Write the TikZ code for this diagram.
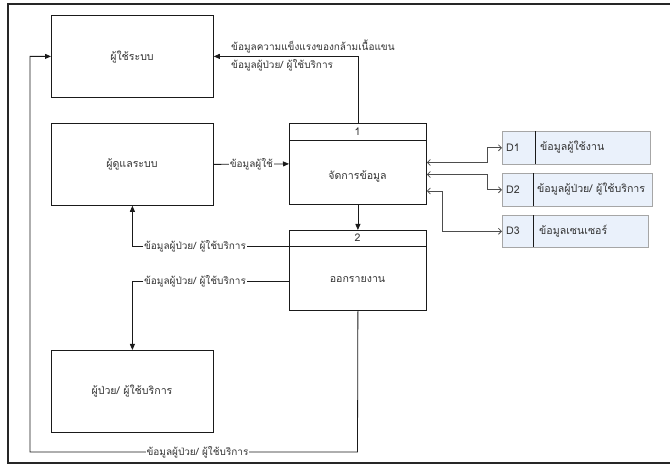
\documentclass[tikz,border=0pt]{standalone}
\usepackage{fontspec}
\setmainfont[Script=Thai]{Loma}
\usetikzlibrary{arrows.meta}
\definecolor{txt}{HTML}{333333}
\definecolor{ln}{HTML}{1A1A1A}
\definecolor{dsfill}{HTML}{EAF1FB}
\definecolor{dsdraw}{HTML}{A6A6A6}
\definecolor{dsline}{HTML}{4D4D4D}
\newcommand\thsz{\fontsize{10}{12}\selectfont}
\newcommand\thbig{\fontsize{10.6}{12}\selectfont}
\begin{document}
\begin{tikzpicture}[x=1pt,y=-1pt,
  font=\thsz, text=txt,
  ent/.style={draw=ln, line width=0.8pt, minimum width=162pt, minimum height=82pt, inner sep=0pt, anchor=north west},
  proc/.style={draw=ln, line width=0.8pt, minimum width=137pt, minimum height=81pt, inner sep=0pt, anchor=north west},
  store/.style={draw=dsdraw, fill=dsfill, line width=0.6pt, minimum height=33pt, inner sep=0pt, anchor=north west},
  flow/.style={draw=ln, line width=0.8pt, -{Triangle[length=6pt,width=5pt]}},
  dsflow/.style={draw=dsline, line width=0.8pt, {Straight Barb[length=3pt,width=6pt]}-{Straight Barb[length=3pt,width=6pt]}},
  lbl/.style={inner sep=1pt, fill=white},
  tx/.style={inner sep=0pt, font=\thbig}
]
\useasboundingbox (0,0) rectangle (670,465);
% frame
\draw[line width=1.4pt, black!85] (670,4) -- (8,4) -- (8,463) -- (670,463);

% entities
\node[ent] (ent1) at (51,15) {};
\node[tx] (ent1t) at (132,57) {ผู้ใช้ระบบ};
\node[ent] (ent2) at (51,123) {};
\node[tx] (ent2t) at (132,164) {ผู้ดูแลระบบ};
\node[ent] (ent3) at (51,350) {};
\node[tx] (ent3t) at (132,391) {ผู้ป่วย/ ผู้ใช้บริการ};

% processes
\node[proc] (p1) at (289,123) {};
\draw[ln, line width=0.8pt] ([yshift=-17pt]p1.north west) -- ([yshift=-17pt]p1.north east);
\node[tx] (p1n) at (357.5,131.5) {1};
\node[tx] (p1t) at (357.5,176) {จัดการข้อมูล};

\node[proc, minimum height=80pt] (p2) at (289,230) {};
\draw[ln, line width=0.8pt] ([yshift=-16pt]p2.north west) -- ([yshift=-16pt]p2.north east);
\node[tx] (p2n) at (357.5,238) {2};
\node[tx] (p2t) at (357.5,280) {ออกรายงาน};

% data stores
\node[store, minimum width=148pt] (d1) at (502,131) {};
\draw[ln, line width=0.8pt] (535.7,131.4) -- (535.7,163.6);
\node[tx, anchor=west] (d1id) at (506,147.5) {D1};
\node[tx, anchor=west] (d1nm) at (540,147.5) {ข้อมูลผู้ใช้งาน};

\node[store, minimum width=150pt] (d2) at (502,173) {};
\draw[ln, line width=0.8pt] (533,173.4) -- (533,205.6);
\node[tx, anchor=west] (d2id) at (506,189.5) {D2};
\node[tx, anchor=west] (d2nm) at (537,189.5) {ข้อมูลผู้ป่วย/ ผู้ใช้บริการ};

\node[store, minimum width=146pt, minimum height=32pt] (d3) at (502,215) {};
\draw[ln, line width=0.8pt] (533,215.4) -- (533,246.6);
\node[tx, anchor=west] (d3id) at (506,231) {D3};
\node[tx, anchor=west] (d3nm) at (539,231) {ข้อมูลเซนเซอร์};

% data store connectors
\draw[dsflow] (p1.east |- 0,162.5) -- (487.5,162.5) |- (d1.west);
\draw[dsflow] (p1.east |- 0,174.5) -- (487.5,174.5) |- (d2.west);
\draw[dsflow] (p1.east |- 0,191) -- (442.5,191) |- (d3.west);

% main flows
\draw[flow] (p1.north) |- (ent1.east);
\node[inner sep=0pt, anchor=west] (lab1) at (231,46.5) {ข้อมูลความแข็งแรงของกล้ามเนื้อแขน};
\node[inner sep=0pt, anchor=west] (lab2) at (231,65) {ข้อมูลผู้ป่วย/ ผู้ใช้บริการ};

\draw[flow] (ent2.east) -- node[lbl] (lab3) {ข้อมูลผู้ใช้} (p1.west);
\draw[flow] (p1.south) -- (p2.north);

\draw[flow] (p2.west |- 0,246) -| (ent2.south);
\node[lbl] (lab4) at (195,246) {ข้อมูลผู้ป่วย/ ผู้ใช้บริการ};

\draw[flow] (p2.west |- 0,281) -| (ent3.north);
\node[lbl] (lab5) at (195,281) {ข้อมูลผู้ป่วย/ ผู้ใช้บริการ};

\coordinate (c1) at (357.5,452);
\coordinate (c2) at (30,452);
\draw[flow] (p2.south) -- (c1) -- (c2) |- (ent1.west);
\node[lbl] (lab6) at (197.5,452) {ข้อมูลผู้ป่วย/ ผู้ใช้บริการ};
\end{tikzpicture}
\end{document}
